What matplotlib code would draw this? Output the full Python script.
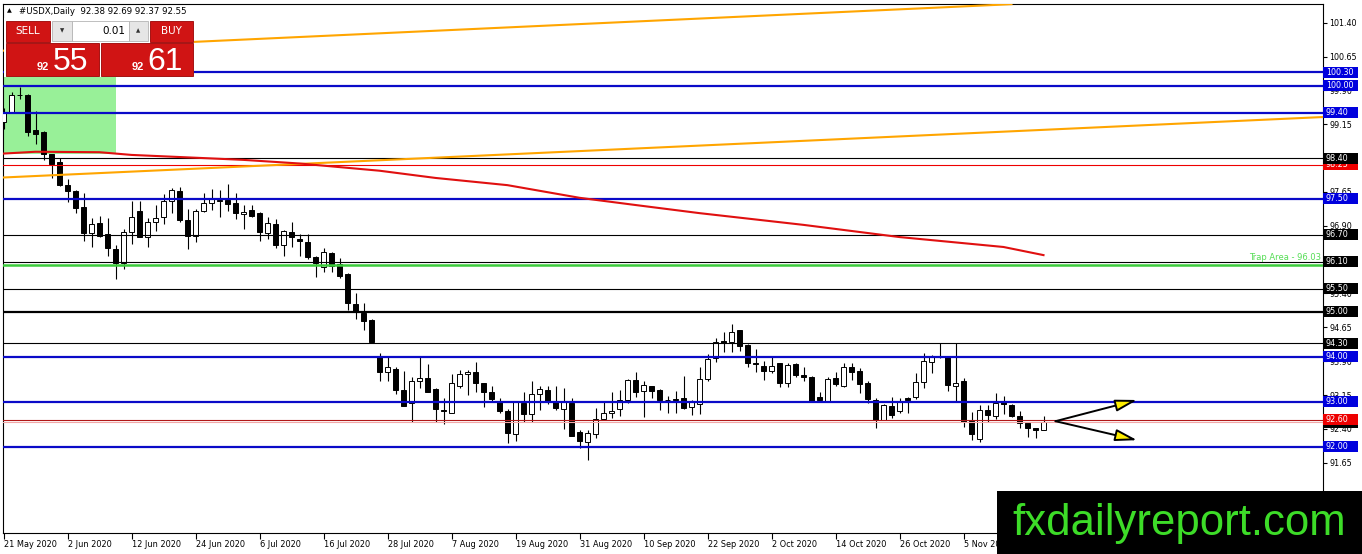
import matplotlib
matplotlib.use("Agg")
import matplotlib.pyplot as plt
import matplotlib.transforms as mtransforms
from matplotlib.patches import Rectangle, FancyArrowPatch

plt.rcParams['font.family'] = ['DejaVu Sans']

# daily candles #USDX, one per weekday from 21 May 2020
opens = [99.21, 99.43, 99.80, 99.80, 99.02, 98.98, 98.49, 98.32, 97.80, 97.67,
         97.32, 96.75, 96.96, 96.72, 96.39, 96.07, 96.77, 97.23, 96.65, 96.99,
         97.09, 97.44, 97.67, 97.03, 96.68, 97.23, 97.40, 97.46, 97.47, 97.40,
         97.15, 97.25, 97.19, 96.75, 96.95, 96.48, 96.77, 96.61, 96.55, 96.20,
         95.99, 96.29, 96.05, 95.83, 95.16, 94.96, 94.81, 94.00, 93.65, 93.73,
         93.26, 92.97, 93.46, 93.52, 93.28, 92.82, 92.76, 93.34, 93.61, 93.65,
         93.41, 93.22, 93.00, 92.80, 92.28, 92.97, 92.72, 93.17, 93.26, 92.99,
         92.85, 92.97, 92.34, 92.12, 92.28, 92.61, 92.75, 92.83, 93.04, 93.48,
         93.24, 93.35, 93.26, 93.05, 93.07, 93.08, 92.89, 92.94, 93.50, 93.96,
         94.35, 94.33, 94.59, 94.26, 93.87, 93.80, 93.69, 93.85, 93.42, 93.83,
         93.59, 93.56, 93.10, 93.02, 93.52, 93.36, 93.77, 93.68, 93.41, 93.05,
         92.60, 92.91, 92.80, 93.08, 93.11, 93.43, 93.88, 94.01, 94.00, 93.34,
         93.46, 92.57, 92.18, 92.82, 92.69, 93.00, 92.93, 92.69, 92.52, 92.41,
         92.38]
highs = [99.50, 99.87, 99.98, 99.82, 99.45, 99.00, 98.50, 98.40, 97.94, 97.70,
         97.63, 97.07, 97.12, 97.07, 96.47, 96.83, 97.46, 97.46, 97.07, 97.35,
         97.60, 97.74, 97.77, 97.27, 97.27, 97.62, 97.71, 97.69, 97.83, 97.63,
         97.36, 97.36, 97.20, 97.10, 97.05, 96.80, 96.98, 96.71, 96.72, 96.22,
         96.40, 96.33, 96.18, 95.85, 95.40, 95.18, 94.83, 94.07, 94.00, 93.78,
         93.68, 93.56, 94.00, 93.84, 93.30, 93.08, 93.62, 93.70, 93.70, 93.88,
         93.42, 93.34, 93.08, 92.83, 93.02, 93.22, 93.46, 93.35, 93.34, 93.35,
         93.30, 93.08, 92.38, 92.38, 92.86, 93.02, 93.22, 93.26, 93.50, 93.65,
         93.45, 93.36, 93.28, 93.13, 93.25, 93.57, 93.04, 93.78, 94.05, 94.41,
         94.55, 94.72, 94.59, 94.28, 94.16, 93.91, 94.02, 93.87, 93.87, 93.87,
         93.78, 93.57, 93.22, 93.56, 93.65, 93.85, 93.85, 93.74, 93.47, 93.08,
         92.95, 93.11, 93.08, 93.11, 93.63, 94.07, 94.04, 94.30, 94.00, 94.30,
         93.53, 92.78, 92.93, 92.93, 93.19, 93.13, 92.94, 92.80, 92.55, 92.43,
         92.69]
lows = [99.04, 99.40, 99.70, 98.89, 98.71, 98.36, 97.96, 97.78, 97.43, 97.19,
        96.56, 96.44, 96.66, 96.24, 95.72, 95.94, 96.49, 96.65, 96.44, 96.79,
        96.95, 97.18, 96.99, 96.39, 96.55, 97.21, 97.25, 97.10, 97.23, 97.04,
        96.82, 97.10, 96.56, 96.61, 96.40, 96.24, 96.44, 96.24, 96.16, 95.77,
        95.88, 95.88, 95.74, 95.03, 94.83, 94.58, 94.31, 93.47, 93.47, 93.17,
        92.90, 92.55, 93.31, 93.21, 92.55, 92.51, 92.75, 93.30, 93.14, 93.22,
        92.89, 92.99, 92.76, 92.09, 92.13, 92.55, 92.55, 92.82, 92.94, 92.82,
        92.39, 92.24, 91.97, 91.71, 92.19, 92.60, 92.63, 92.69, 92.97, 93.11,
        92.67, 93.08, 92.82, 92.76, 92.76, 92.83, 92.71, 92.73, 93.45, 93.89,
        94.11, 94.11, 94.13, 93.77, 93.65, 93.48, 93.63, 93.32, 93.32, 93.54,
        93.47, 92.99, 92.99, 93.02, 93.36, 93.32, 93.48, 93.19, 92.97, 92.43,
        92.60, 92.63, 92.76, 92.76, 93.06, 93.31, 93.63, 93.98, 93.24, 93.02,
        92.45, 92.15, 92.10, 92.56, 92.61, 92.73, 92.67, 92.43, 92.23, 92.19,
        92.37]
closes = [99.43, 99.80, 99.79, 98.98, 98.93, 98.49, 98.27, 97.80, 97.68, 97.30,
          96.75, 96.94, 96.68, 96.41, 96.08, 96.77, 97.09, 96.66, 96.99, 97.07,
          97.46, 97.69, 97.03, 96.68, 97.23, 97.40, 97.51, 97.47, 97.38, 97.18,
          97.21, 97.12, 96.77, 96.97, 96.48, 96.79, 96.66, 96.56, 96.20, 96.07,
          96.33, 96.01, 95.79, 95.18, 94.98, 94.78, 94.33, 93.65, 93.76, 93.26,
          92.91, 93.46, 93.52, 93.22, 92.83, 92.79, 93.41, 93.62, 93.65, 93.41,
          93.22, 93.06, 92.80, 92.30, 93.00, 92.72, 93.17, 93.28, 92.99, 92.87,
          92.99, 92.25, 92.14, 92.30, 92.61, 92.75, 92.80, 93.04, 93.48, 93.22,
          93.37, 93.24, 93.04, 93.03, 93.04, 92.87, 92.99, 93.50, 93.94, 94.33,
          94.31, 94.55, 94.24, 93.85, 93.83, 93.69, 93.79, 93.42, 93.82, 93.59,
          93.54, 92.99, 93.04, 93.50, 93.39, 93.77, 93.67, 93.39, 93.06, 92.60,
          92.93, 92.71, 93.00, 93.04, 93.43, 93.90, 93.99, 94.00, 93.37, 93.41,
          92.55, 92.29, 92.82, 92.71, 92.97, 92.94, 92.69, 92.52, 92.43, 92.37,
          92.55]

date_labels = ['21 May 2020', '2 Jun 2020', '12 Jun 2020', '24 Jun 2020', '6 Jul 2020',
               '16 Jul 2020', '28 Jul 2020', '7 Aug 2020', '19 Aug 2020', '31 Aug 2020',
               '10 Sep 2020', '22 Sep 2020', '2 Oct 2020', '14 Oct 2020', '26 Oct 2020',
               '5 Nov 2020']
price_ticks = [101.40, 100.65, 99.90, 99.15, 98.40, 97.65, 96.90, 96.15,
               95.40, 94.65, 93.90, 93.15, 92.40, 91.65]

# horizontal levels
blue_levels = [100.30, 100.00, 99.40, 97.50, 94.00, 93.00, 92.00]
black_levels = [98.40, 96.70, 96.10, 95.50, 94.30]
black_bold_level = 95.00
red_level = 98.25
resist_level = 92.60
bid_level = 92.55
trap_level = 96.03

# moving average
ma_idx = [0, 4, 12, 16, 25, 30, 37, 47, 54, 63, 72, 79, 87, 100, 112, 125, 130]
ma_val = [98.50, 98.54, 98.53, 98.47, 98.40, 98.36, 98.28, 98.12, 97.96, 97.80,
          97.52, 97.36, 97.18, 96.92, 96.65, 96.43, 96.25]

# orange channel
upper_idx = [0, 126]
upper_val = [100.78, 101.81]
lower_idx = [0, 165]
lower_val = [97.97, 99.31]

# green zone
zone_idx = [-0.5, 14]
zone_val = [98.49, 100.20]

# projection arrows
arrow_from = (131.5, 92.57)
arrow_to = [(141.7, 93.04), (141.7, 92.15)]

quote = [92.38, 92.69, 92.37, 92.55]
bid_price = 92.55
ask_price = 92.61

# right-axis price labels, drawn in this order
tag_values = [100.30, 100.00, 99.40, 98.25, 98.40, 97.50, 96.70, 96.10, 95.50,
              95.00, 94.30, 94.00, 93.00, 92.55, 92.60, 92.00]
tag_colors = ['#0000dd', '#0000dd', '#0000dd', '#ee0000', 'black', '#0000dd', 'black',
              'black', 'black', 'black', 'black', '#0000dd', '#0000dd', 'black',
              '#ee0000', '#0000dd']

W, H = 1362, 554
fig = plt.figure(figsize=(W / 100, H / 100), dpi=100)
fig.patch.set_facecolor('white')
ax = fig.add_axes([2.7 / W, (H - 533.3) / H, 1320 / W, 529.3 / H])
ax.set_xlim(-0.1, 164.9)
ax.set_ylim(90.086, 101.814)

# zone
ax.add_patch(Rectangle((zone_idx[0], zone_val[0]), zone_idx[1] - zone_idx[0],
                       zone_val[1] - zone_val[0], fc='#98f098', ec='none', zorder=1))

# candles
x = list(range(len(opens)))
bottoms = [min(o, c) for o, c in zip(opens, closes)]
heights = [max(abs(c - o), 0.004) for o, c in zip(opens, closes)]
faces = ['white' if c >= o else 'black' for o, c in zip(opens, closes)]
ax.vlines(x, lows, highs, color='black', lw=0.8, zorder=3)
ax.bar(x, heights, bottom=bottoms, width=0.62, color=faces, edgecolor='black',
       linewidth=0.7, zorder=4)

# levels
for v in blue_levels:
    ax.axhline(v, color='#0a0ac8', lw=1.6, zorder=5)
for v in black_levels:
    ax.axhline(v, color='black', lw=0.8, zorder=5)
ax.axhline(black_bold_level, color='black', lw=1.6, zorder=5)
ax.axhline(red_level, color='#ee0000', lw=0.8, zorder=5)
ax.axhline(bid_level, color='#f2a8a8', lw=0.8, zorder=5)
ax.axhline(resist_level, color='#b01818', lw=0.8, zorder=5)
ax.axhline(trap_level, color='#3ccc3c', lw=1.8, zorder=5)
ax.text(164.7, trap_level + 0.16, 'Trap Area - %.2f' % trap_level, color='#55dd55',
        fontsize=6, ha='right', va='center', zorder=6)

# trend lines and MA
ax.plot(upper_idx, upper_val, color='#ffa500', lw=1.5, zorder=5)
ax.plot(lower_idx, lower_val, color='#ffa500', lw=1.5, zorder=5)
ax.plot(ma_idx, ma_val, color='#e01010', lw=1.5, zorder=5)

# arrows
for end in arrow_to:
    ax.add_patch(FancyArrowPatch(arrow_from, end,
                                 arrowstyle='-|>,head_length=1.1,head_width=0.3',
                                 mutation_scale=12, lw=1.4, ec='black', fc='#ffee00',
                                 shrinkA=0, shrinkB=0, zorder=7))

# axes styling
ax.yaxis.tick_right()
ax.set_yticks(price_ticks)
ax.set_yticklabels(['%.2f' % v for v in price_ticks])
ax.tick_params(axis='y', length=3, width=0.8, pad=2, labelsize=5.8, direction='out')
ax.set_xticks(range(0, 8 * len(date_labels), 8))
ax.set_xticklabels(date_labels, ha='left')
ax.tick_params(axis='x', length=4, width=0.8, pad=1, labelsize=5.9, direction='out')
for s in ax.spines.values():
    s.set_linewidth(0.8)

# price tags: each box + text stacked above the previous one
blend = mtransforms.blended_transform_factory(ax.transAxes, ax.transData)
for k, (v, col) in enumerate(zip(tag_values, tag_colors)):
    ax.add_patch(Rectangle((1.0006, v - 0.122), 0.0265, 0.244, transform=blend,
                           fc=col, ec='none', clip_on=False, zorder=8 + 2 * k))
    ax.text(1.0025, v, '%.2f' % v, transform=blend, color='white', fontsize=5.8,
            ha='left', va='center', zorder=9 + 2 * k)

# overlay in pixel coordinates for the trade panel and watermark
ov = fig.add_axes([0, 0, 1, 1], zorder=10)
ov.set_xlim(0, W)
ov.set_ylim(H, 0)
ov.axis('off')


def box(x0, y0, x1, y1, fc, ec='none', lw=0):
    ov.add_patch(Rectangle((x0, y0), x1 - x0, y1 - y0, fc=fc, ec=ec, lw=lw))


ov.text(7, 11, '\u25b2', fontsize=4.5, ha='left', va='center')
ov.text(19, 11, '#USDX,Daily  ' + ' '.join('%.2f' % q for q in quote),
        fontsize=6.2, ha='left', va='center')

red = '#d01414'
box(4, 18, 194, 77, 'white')
box(6, 20.5, 49.5, 41.5, red, '#9a0000', 0.6)
box(52, 21, 71.5, 40.5, '#e6e6e6', '#b4b4b4', 0.6)
box(71.5, 21, 128.5, 40.5, 'white', '#b4b4b4', 0.6)
box(129, 21, 147.5, 40.5, '#e6e6e6', '#b4b4b4', 0.6)
box(149.5, 20.5, 193, 41.5, red, '#9a0000', 0.6)
box(6, 42.5, 99, 75.5, red, '#9a0000', 0.6)
box(101, 42.5, 193, 75.5, red, '#9a0000', 0.6)
ov.text(27.75, 31, 'SELL', color='white', fontsize=7.5, ha='center', va='center')
ov.text(171.25, 31, 'BUY', color='white', fontsize=7.5, ha='center', va='center')
ov.text(61.7, 30.5, '\u25bc', fontsize=4, ha='center', va='center', color='#333333')
ov.text(138.2, 30.5, '\u25b2', fontsize=4, ha='center', va='center', color='#333333')
ov.text(125, 30.5, '0.01', fontsize=7.5, ha='right', va='center')

for price, xr in [(bid_price, 49), (ask_price, 144)]:
    big, small = ('%.2f' % price).split('.')
    ov.text(xr, 70, big, color='white', fontsize=8, weight='bold',
            family='Liberation Sans', ha='right', va='baseline')
    ov.text(xr + 3.5, 70.5, small, color='white', fontsize=23,
            family='Liberation Sans', ha='left', va='baseline')

box(997, 491, W, H, 'black')
ov.text(1179, 535, 'fxdailyreport.com', color='#3ddc28', fontsize=31.5,
        family='Liberation Sans', ha='center', va='baseline')

fig.savefig('out.png', dpi=100)
